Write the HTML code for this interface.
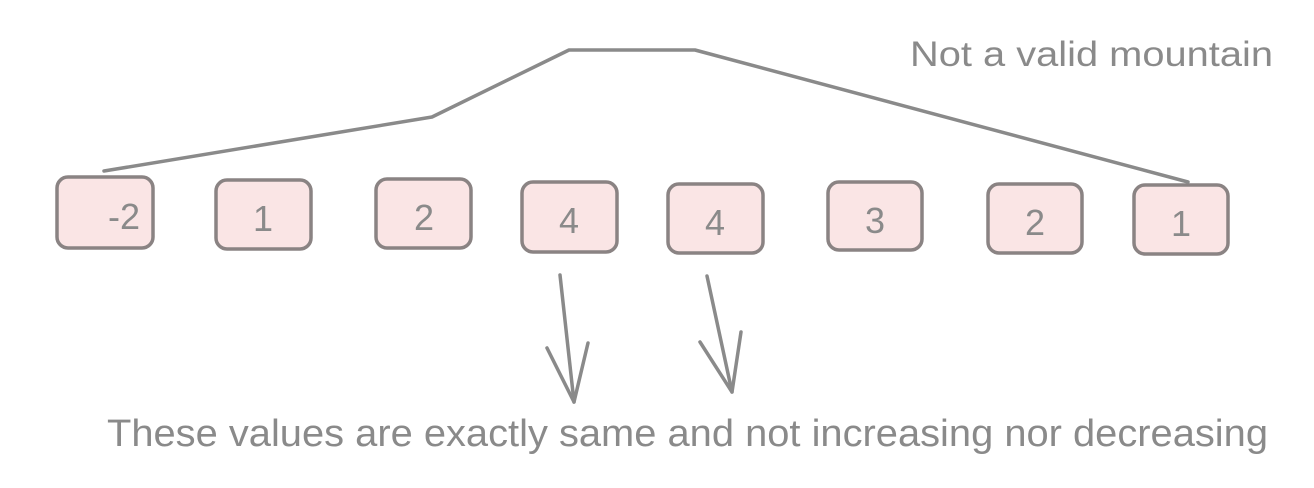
<!DOCTYPE html>
<html><head><style>
body{margin:0;background:#fff;}
svg{display:block;}
text{font-family:"Liberation Sans",sans-serif;fill:#8a8a8a;}
</style></head><body>
<svg width="1314" height="488" viewBox="0 0 1314 488">
<g fill="#fae5e5" stroke="#8a8383" stroke-width="3.5">
<rect x="57" y="177" width="96" height="71" rx="11"/>
<rect x="216" y="180" width="95" height="69" rx="11"/>
<rect x="376" y="179" width="95" height="69" rx="11"/>
<rect x="522" y="182" width="95" height="70" rx="11"/>
<rect x="668" y="184" width="95" height="69" rx="11"/>
<rect x="828" y="182" width="94" height="68" rx="11"/>
<rect x="988" y="184" width="94" height="69" rx="11"/>
<rect x="1134" y="185" width="94" height="69" rx="11"/>
</g>
<g font-size="36" text-anchor="middle">
<text x="124" y="229">-2</text>
<text x="263" y="231">1</text>
<text x="424" y="230">2</text>
<text x="569" y="233">4</text>
<text x="715" y="235">4</text>
<text x="875" y="233">3</text>
<text x="1035" y="235">2</text>
<text x="1181" y="236">1</text>
</g>
<g fill="none" stroke="#8a8a8a" stroke-width="3.5" stroke-linecap="round" stroke-linejoin="round">
<polyline points="104,171 432,117 569,50 695,50 1188,182"/>
<line x1="560" y1="275" x2="574" y2="402"/>
<polyline points="547,348 574,402 588,343"/>
<line x1="707" y1="276" x2="732" y2="392"/>
<polyline points="700,342 732,392 741,332"/>
</g>
<text x="910" y="66" font-size="35" textLength="363" lengthAdjust="spacingAndGlyphs">Not a valid mountain</text>
<text x="107" y="446" font-size="38" textLength="1161" lengthAdjust="spacingAndGlyphs">These values are exactly same and not increasing nor decreasing</text>
</svg>
</body></html>
